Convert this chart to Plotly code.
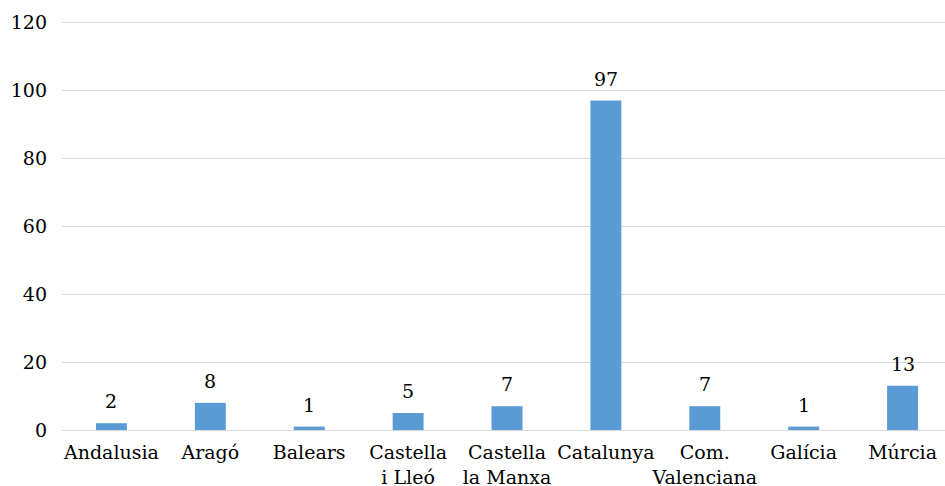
import plotly.graph_objects as go

categories = ["Andalusia", "Aragó", "Balears", "Castella<br>i Lleó", "Castella<br>la Manxa",
              "Catalunya", "Com.<br>Valenciana", "Galícia", "Múrcia"]
values = [2, 8, 1, 5, 7, 97, 7, 1, 13]
y_ticks = [0, 20, 40, 60, 80, 100, 120]

font_family = "DejaVu Serif, serif"

fig = go.Figure(go.Bar(
    x=categories, y=values,
    marker=dict(color="#5B9BD5", line=dict(width=0)),
    hoverinfo="x+y",
))

for c, v in zip(categories, values):
    fig.add_annotation(x=c, y=v, text=str(v), showarrow=False,
                       yanchor="bottom", yshift=9,
                       font=dict(family=font_family, size=19, color="#000000"))

fig.update_layout(
    width=952, height=486,
    margin=dict(l=62, r=0, t=19, b=56),
    paper_bgcolor="white", plot_bgcolor="white",
    bargap=0.687,
    showlegend=False,
    font=dict(family=font_family, size=19, color="#000000"),
)
fig.update_xaxes(
    showgrid=False, showline=True, linecolor="#d9d9d9", linewidth=1,
    tickfont=dict(family=font_family, size=19), ticks="", automargin=False,
    tickangle=0, ticklabelstandoff=5,
)
fig.update_yaxes(
    range=[0, 121], tickvals=y_ticks, showgrid=True, gridcolor="#d9d9d9",
    zeroline=False, showline=False, ticks="", ticklabelstandoff=14,
    tickfont=dict(family=font_family, size=19), automargin=False,
)
fig.write_html(
    "out.html", config={"displayModeBar": False},
    post_script=("document.body.style.margin='0';"
                 "document.body.style.overflow='hidden';"
                 "document.documentElement.style.overflow='hidden';"),
)
